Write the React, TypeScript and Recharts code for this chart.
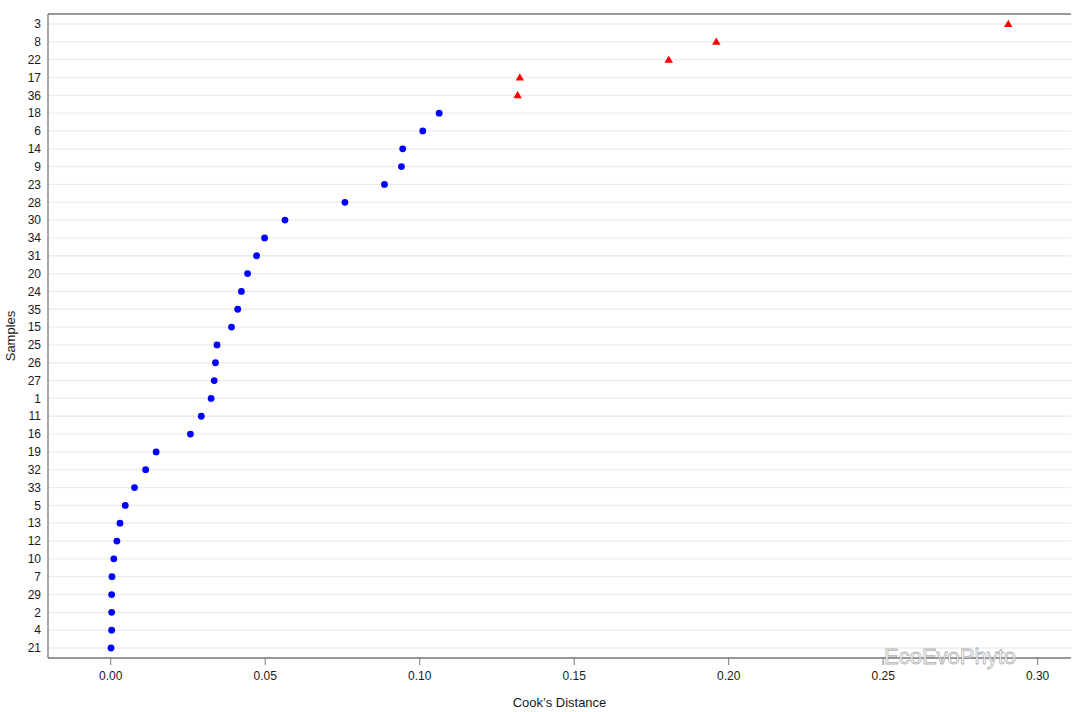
import { ScatterChart, Scatter, XAxis, YAxis, CartesianGrid } from 'recharts';

// samples ordered top -> bottom as in the dotplot
const samples = [
  '3', '8', '22', '17', '36', '18', '6', '14', '9', '23', '28', '30',
  '34', '31', '20', '24', '35', '15', '25', '26', '27', '1', '11', '16',
  '19', '32', '33', '5', '13', '12', '10', '7', '29', '2', '4', '21',
];

const cooksDistance = [
  0.2905, 0.196, 0.1806, 0.1324, 0.1317, 0.1063, 0.101, 0.0945, 0.0941, 0.0886, 0.0758, 0.0564,
  0.0498, 0.0472, 0.0443, 0.0423, 0.0411, 0.0391, 0.0344, 0.0339, 0.0335, 0.0325, 0.0293, 0.0258,
  0.0147, 0.0113, 0.0077, 0.0047, 0.003, 0.002, 0.001, 0.0004, 0.0003, 0.0003, 0.0003, 0.0001,
];

const influential = ['3', '8', '22', '17', '36'];

const xTicks = [0, 0.05, 0.1, 0.15, 0.2, 0.25, 0.3];

const rows = samples.map((s, i) => ({ sample: s, pos: i + 1, cook: cooksDistance[i] }));
const normalPts = rows.filter((r) => !influential.includes(r.sample));
const flaggedPts = rows.filter((r) => influential.includes(r.sample));
const yTicks = rows.map((r) => r.pos);

const FRAME = '#7a7a7a';
const TEXT = '#1a1a1a';
const FONT = 'Liberation Sans, Arial, sans-serif';
const xDomain = [-0.0203, 0.3108];
const yDomain = [0.44, 36.56];

const Dot = (props: any) => {
  const { cx, cy } = props;
  return <circle cx={cx} cy={cy} r={3.4} fill="#0000ff" />;
};

const Tri = (props: any) => {
  const { cx, cy } = props;
  return <path d={`M${cx},${cy - 4.2}L${cx + 4.2},${cy + 3}L${cx - 4.2},${cy + 3}Z`} fill="#ff0000" />;
};

const App = () => {
  return (
    <div style={{ position: 'relative', width: 1080, height: 712, background: '#fff' }}>
      <style>{`body{margin:0;}`}</style>
      <ScatterChart width={1080} height={712} margin={{ top: 0, right: 9, bottom: 0, left: 0 }}>
        <CartesianGrid vertical={false} stroke="#ececec" strokeWidth={1.3} yAxisId="left" xAxisId="bottom" />
        <XAxis
          xAxisId="top"
          orientation="top"
          type="number"
          dataKey="cook"
          domain={xDomain}
          ticks={xTicks}
          allowDataOverflow
          height={14}
          tickSize={7}
          tick={false}
          tickLine={{ stroke: FRAME }}
          axisLine={{ stroke: FRAME, strokeWidth: 1.3 }}
        />
        <XAxis
          xAxisId="bottom"
          orientation="bottom"
          type="number"
          dataKey="cook"
          domain={xDomain}
          ticks={xTicks}
          allowDataOverflow
          height={54}
          tickSize={7}
          tickMargin={6}
          tickFormatter={(v: number) => v.toFixed(2)}
          tick={{ fill: TEXT, fontSize: 12, fontFamily: FONT }}
          tickLine={{ stroke: FRAME }}
          axisLine={{ stroke: FRAME, strokeWidth: 1.3 }}
          label={{
            value: 'Cook\u2019s Distance',
            position: 'insideBottom',
            offset: 5,
            fill: TEXT,
            fontSize: 13,
            fontFamily: FONT,
          }}
        />
        <YAxis
          yAxisId="left"
          type="number"
          dataKey="pos"
          domain={yDomain}
          reversed
          ticks={yTicks}
          interval={0}
          allowDataOverflow
          width={48}
          tickSize={0}
          tickMargin={7}
          tickLine={false}
          tickFormatter={(v: number) => samples[v - 1]}
          tick={{ fill: TEXT, fontSize: 12, fontFamily: FONT }}
          axisLine={{ stroke: FRAME, strokeWidth: 1.3 }}
          label={{
            value: 'Samples',
            angle: -90,
            position: 'insideLeft',
            offset: 10,
            fill: TEXT,
            fontSize: 13,
            fontFamily: FONT,
            style: { textAnchor: 'middle' },
          }}
        />
        <YAxis
          yAxisId="right"
          orientation="right"
          type="number"
          dataKey="pos"
          domain={yDomain}
          allowDataOverflow
          width={0}
          tick={false}
          tickLine={false}
          axisLine={{ stroke: FRAME, strokeWidth: 1.3 }}
        />
        <Scatter data={normalPts} xAxisId="bottom" yAxisId="left" shape={Dot} isAnimationActive={false} />
        <Scatter data={flaggedPts} xAxisId="bottom" yAxisId="left" shape={Tri} isAnimationActive={false} />
      </ScatterChart>
      {/* watermark */}
      <div
        style={{
          position: 'absolute',
          left: 884,
          top: 645,
          fontFamily: FONT,
          fontSize: 22,
          lineHeight: '24px',
          color: 'rgba(255,255,255,0.9)',
          WebkitTextStroke: '0.8px rgba(120,120,120,0.6)',
          pointerEvents: 'none',
        }}
      >
        EcoEvoPhyto
      </div>
    </div>
  );
};

export default App;
